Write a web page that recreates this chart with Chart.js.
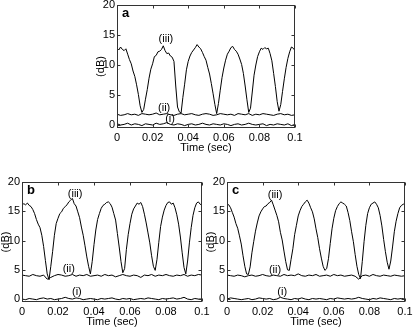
<!DOCTYPE html>
<html>
<head>
<meta charset="utf-8">
<script src="https://cdn.jsdelivr.net/npm/chart.js@4"></script>
<style>
  body { margin: 0; background: #fff; overflow: hidden; }
  #wrap { position: relative; width: 415px; height: 331px; }
  canvas { position: absolute; }
</style>
</head>
<body>
<div id="wrap">
  <canvas id="panelA" width="219" height="163" style="left:91px;top:-5px"></canvas>
  <canvas id="panelB" width="221" height="160" style="left:-4px;top:172px"></canvas>
  <canvas id="panelC" width="219" height="160" style="left:201px;top:172px"></canvas>
</div>
<script>
// sample instants (sec): 1 ms grid for curve (iii), 2 ms grid for the flat traces
const tFine = Array.from({ length: 101 }, (_, i) => i / 1000);
const tCoarse = Array.from({ length: 51 }, (_, i) => i / 500);

const xTicks = [0, 0.02, 0.04, 0.06, 0.08, 0.1];
const yTicks = [0, 5, 10, 15, 20];

// panel a
const aIII = [12.8, 12.5, 13.0, 12.6, 12.4, 12.7, 11.8, 10.9, 10.2, 9.0,
  8.1, 6.7, 5.1, 3.2, 2.1, 2.6, 4.3, 5.9, 7.8, 9.3,
  10.2, 11.4, 11.6, 12.2, 12.3, 12.6, 13.2, 12.4, 11.9, 12.0,
  11.5, 11.3, 10.6, 6.5, 3.0, 2.2, 2.0, 4.6, 6.8, 9.2,
  10.6, 11.5, 12.1, 12.5, 12.9, 13.4, 13.0, 12.7, 12.1, 11.4,
  10.8, 9.6, 8.5, 6.9, 5.2, 3.4, 1.9, 3.6, 5.8, 7.9,
  9.5, 10.8, 11.8, 12.3, 12.9, 13.1, 12.6, 12.3, 11.8, 11.0,
  10.1, 8.6, 6.5, 4.2, 2.1, 2.8, 5.5, 8.3, 10.0, 11.4,
  12.2, 12.8, 12.6, 12.9, 12.7, 12.8, 11.9, 10.7, 8.6, 6.4,
  3.9, 2.3, 3.4, 5.6, 7.7, 9.6, 11.1, 12.2, 13.0, 12.8,
  12.4];
const aII = [1.8, 1.6, 1.7, 1.9, 1.7, 1.8, 1.6, 1.9, 1.8, 1.7, 1.8, 2.0, 1.7, 1.8, 1.9, 1.7, 1.6,
  1.8, 1.9, 1.7, 1.8, 1.9, 1.7, 1.6, 1.8, 1.9, 1.8, 1.6, 1.7, 1.9, 1.8, 1.7, 1.8, 1.6,
  1.9, 1.8, 1.7, 1.9, 1.6, 1.8, 1.7, 1.9, 1.8, 1.7, 1.6, 1.8, 1.9, 1.7, 1.8, 1.6, 1.7];
const aI = [0.2, 0.0, 0.1, 0.3, 0.0, 0.2, 0.1, -0.1, 0.2, 0.1, 0.0, 0.3, 0.1, 0.2, 0.4, 0.1, 0.0,
  0.2, 0.1, -0.1, 0.1, 0.2, 0.0, 0.1, 0.3, 0.1, 0.0, 0.2, 0.1, 0.0, 0.2, 0.1, -0.1, 0.1,
  0.2, 0.0, 0.1, 0.3, 0.1, 0.0, 0.1, 0.2, -0.1, 0.1, 0.0, 0.2, 0.1, 0.0, 0.2, -0.1, 0.1];

// panel b
const bIII = [16.0, 16.3, 16.1, 16.4, 16.0, 15.8, 15.3, 14.6, 13.6, 12.8,
  12.2, 10.9, 9.0, 6.6, 4.3, 3.3, 5.6, 8.1, 10.9, 12.9,
  13.8, 14.6, 14.9, 15.5, 15.8, 16.1, 16.6, 16.9, 17.2, 16.3,
  15.9, 14.9, 13.9, 12.3, 10.9, 9.1, 7.2, 5.6, 4.3, 6.4,
  9.3, 11.8, 13.6, 14.6, 15.5, 16.0, 16.2, 16.5, 16.6, 16.3,
  15.7, 14.6, 13.5, 11.2, 8.9, 6.4, 4.5, 5.2, 8.5, 11.0,
  12.9, 14.5, 15.4, 15.9, 16.4, 16.2, 16.5, 15.8, 14.5, 13.0,
  11.3, 9.6, 7.4, 5.6, 4.9, 6.8, 9.7, 12.4, 14.0, 15.2,
  16.0, 16.5, 16.6, 16.2, 16.4, 15.6, 14.4, 12.8, 10.6, 7.9,
  5.4, 4.3, 6.5, 9.6, 12.2, 14.3, 15.6, 16.4, 16.6, 16.2,
  16.0];
const bII = [4.1, 4.0, 3.9, 4.2, 4.0, 3.9, 4.1, 3.4, 3.7, 4.0, 4.2, 4.1, 3.9, 4.0, 4.2, 3.9, 4.1,
  4.0, 4.2, 3.9, 4.0, 4.1, 3.9, 4.2, 4.0, 4.1, 3.8, 4.0, 4.2, 4.0, 3.9, 4.1, 4.0, 3.7,
  4.1, 4.0, 4.2, 3.9, 4.1, 4.0, 4.2, 4.0, 3.9, 4.1, 4.0, 4.2, 3.9, 4.1, 4.0, 4.2, 4.1];
const bI = [0.0, -0.1, 0.1, 0.0, -0.1, 0.1, 0.2, 0.0, 0.1, -0.1, 0.0, 0.1, 0.3, 0.1, 0.0, 0.2, 0.1,
  -0.1, 0.0, 0.1, 0.0, -0.1, 0.1, 0.0, 0.1, 0.2, 0.0, -0.1, 0.1, 0.0, 0.1, -0.1, 0.0, 0.1,
  0.0, 0.2, 0.1, 0.0, -0.1, 0.1, 0.0, 0.1, 0.2, 0.0, 0.1, 0.3, 0.0, -0.1, 0.1, 0.0, 0.0];

// panel c
const cIII = [16.3, 16.1, 15.6, 14.8, 14.0, 12.9, 12.1, 10.8, 9.4, 7.4,
  5.6, 4.3, 4.2, 5.5, 7.9, 9.8, 11.6, 13.0, 14.2, 14.9,
  15.4, 15.8, 15.9, 16.3, 16.5, 16.9, 16.1, 15.2, 14.3, 13.2,
  11.4, 10.1, 8.2, 6.4, 5.0, 4.9, 6.8, 8.6, 11.0, 12.6,
  14.2, 15.1, 15.8, 16.2, 16.6, 16.9, 16.4, 15.6, 14.9, 13.7,
  12.0, 10.5, 8.6, 7.0, 5.6, 4.9, 5.2, 6.9, 9.5, 12.0,
  13.8, 15.1, 15.8, 16.3, 16.6, 16.4, 16.2, 15.9, 14.8, 13.4,
  11.5, 9.8, 7.6, 5.6, 4.2, 3.5, 6.4, 9.8, 12.6, 14.6,
  15.6, 16.2, 16.4, 16.6, 16.2, 15.6, 14.3, 12.5, 10.2, 8.1,
  6.3, 5.1, 6.5, 8.9, 11.5, 13.3, 14.6, 15.6, 16.0, 16.2,
  16.3];
const cII = [4.1, 4.0, 3.9, 4.1, 4.0, 3.8, 4.0, 4.1, 3.9, 4.0, 4.2, 4.0, 3.9, 4.1, 4.0, 3.9, 4.2,
  4.0, 4.1, 4.0, 4.3, 4.0, 3.9, 4.1, 4.0, 4.2, 3.9, 4.0, 4.1, 3.9, 4.2, 4.0, 4.1, 3.9,
  4.0, 4.1, 3.9, 3.4, 4.0, 4.1, 3.9, 4.2, 4.0, 3.9, 4.1, 4.0, 3.9, 4.1, 4.0, 3.9, 4.0];
const cI = [0.0, 0.2, 0.1, 0.0, -0.1, 0.0, 0.1, -0.1, 0.0, 0.2, 0.1, 0.0, 0.1, -0.1, 0.0, 0.3, 0.1,
  0.0, -0.1, 0.1, 0.0, 0.2, 0.0, -0.1, 0.1, 0.0, 0.1, 0.0, -0.1, 0.1, 0.0, 0.2, 0.1, 0.0,
  0.1, 0.0, 0.1, 0.3, 0.1, 0.0, -0.1, 0.1, 0.0, 0.2, 0.1, 0.0, -0.1, 0.1, 0.0, 0.1, 0.0];

Chart.defaults.font.family = "'Liberation Sans', Arial, sans-serif";
Chart.defaults.font.size = 11;
Chart.defaults.color = "#000";

// matlab style box with inward ticks, panel letter and curve labels
const frame = {
  id: "frame",
  afterDraw(chart, args, opts) {
    const { ctx, chartArea: a, scales: { x, y } } = chart;
    const L = Math.round(a.left) + 0.5, R = Math.round(a.right) - 0.5;
    const T = Math.round(a.top) + 0.5, B = Math.round(a.bottom) - 0.5;
    ctx.save();
    ctx.strokeStyle = "#333";
    ctx.lineWidth = 1;
    ctx.strokeRect(L, T, R - L, B - T);
    ctx.beginPath();
    xTicks.forEach((v) => {
      const px = Math.round(x.getPixelForValue(v)) + 0.5;
      ctx.moveTo(px, B); ctx.lineTo(px, B - 3);
      ctx.moveTo(px, T); ctx.lineTo(px, T + 3);
    });
    yTicks.forEach((v) => {
      const py = Math.round(y.getPixelForValue(v)) + 0.5;
      ctx.moveTo(L, py); ctx.lineTo(L + 3, py);
      ctx.moveTo(R, py); ctx.lineTo(R - 3, py);
    });
    ctx.stroke();

    ctx.fillStyle = "#000";
    ctx.textBaseline = "middle";
    ctx.textAlign = "left";
    ctx.font = "bold 13px 'Liberation Sans', Arial, sans-serif";
    ctx.fillText(opts.letter, a.left + 5, a.top + 8);

    ctx.textAlign = "center";
    ctx.font = "11px 'Liberation Sans', Arial, sans-serif";
    opts.notes.forEach((n) => {
      ctx.fillText(n.text, x.getPixelForValue(n.x), y.getPixelForValue(n.y));
    });
    ctx.restore();
  },
};

const pts = (ts, vs) => ts.map((t, i) => ({ x: t, y: vs[i] }));

function makePanel(id, letter, iii, ii, i1, notes) {
  const line = (data) => ({
    data, borderColor: "#000", borderWidth: 1, pointRadius: 0, tension: 0,
  });
  return new Chart(document.getElementById(id), {
    type: "line",
    data: {
      datasets: [line(pts(tFine, iii)), line(pts(tCoarse, ii)), line(pts(tCoarse, i1))],
    },
    options: {
      responsive: false,
      animation: false,
      layout: { padding: { top: 10, right: 15, left: 0, bottom: 0 } },
      plugins: {
        legend: { display: false },
        tooltip: { enabled: false },
        frame: { letter, notes },
      },
      scales: {
        x: {
          type: "linear", min: 0, max: 0.1,
          grid: { display: false, drawTicks: false },
          border: { display: false },
          afterBuildTicks: (s) => { s.ticks = xTicks.map((v) => ({ value: v })); },
          afterFit: (s) => { s.height = 30; },
          ticks: {
            padding: 3, maxRotation: 0, autoSkip: false,
            callback: (v) => String(Math.round(v * 100) / 100),
          },
          title: { display: true, text: "Time (sec)", padding: { top: 0, bottom: 3 } },
        },
        y: {
          min: -0.5, max: 20,
          grid: { display: false, drawTicks: false },
          border: { display: false },
          afterBuildTicks: (s) => { s.ticks = yTicks.map((v) => ({ value: v })); },
          afterFit: (s) => { s.width = 26; },
          ticks: { padding: 2 },
          title: { display: true, text: "(dB)", padding: { top: 3, bottom: 0 } },
        },
      },
    },
    plugins: [frame],
  });
}

makePanel("panelA", "a", aIII, aII, aI, [
  { text: "(iii)", x: 0.0275, y: 14.3 },
  { text: "(ii)", x: 0.0265, y: 2.9 },
  { text: "(i)", x: 0.0298, y: 1.0 },
]);
makePanel("panelB", "b", bIII, bII, bI, [
  { text: "(iii)", x: 0.0295, y: 17.9 },
  { text: "(ii)", x: 0.026, y: 5.1 },
  { text: "(i)", x: 0.0305, y: 1.2 },
]);
makePanel("panelC", "c", cIII, cII, cI, [
  { text: "(iii)", x: 0.027, y: 17.8 },
  { text: "(ii)", x: 0.027, y: 5.0 },
  { text: "(i)", x: 0.031, y: 1.2 },
]);
</script>
</body>
</html>
